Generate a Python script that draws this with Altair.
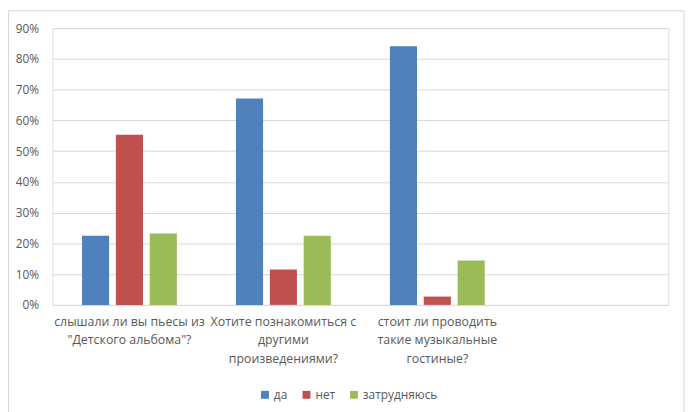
import altair as alt
import pandas as pd

questions = [
    "слышали ли вы пьесы из\n\"Детского альбома\"?",
    "Хотите познакомиться с\nдругими\nпроизведениями?",
    "стоит ли проводить\nтакие музыкальные\nгостиные?",
]
empty_slot = " "
answers = ["да", "нет", "затрудняюсь"]
colors = ["#4F81BD", "#C0504D", "#9BBB59"]

da = [0.225, 0.671, 0.841]
net = [0.553, 0.115, 0.027]
zatr = [0.232, 0.225, 0.144]
tick_values = [0, 0.1, 0.2, 0.3, 0.4, 0.5, 0.6, 0.7, 0.8, 0.9]

rows = []
for ans, vals in zip(answers, [da, net, zatr]):
    for q, v in zip(questions, vals):
        rows.append({"question": q, "answer": ans, "value": v})
df = pd.DataFrame(rows)

W, H = 623, 280
FONT = "Open Sans"
GREY = "#595959"

bars = alt.Chart(df).mark_bar().encode(
    x=alt.X(
        "question:N",
        scale=alt.Scale(domain=questions + [empty_slot], paddingInner=0.384, paddingOuter=0.192),
        axis=alt.Axis(
            title=None,
            labelAngle=0,
            labelExpr="split(datum.label, '\\n')",
            labelFont=FONT,
            labelFontSize=12.5,
            labelColor=GREY,
            labelLineHeight=18.5,
            labelPadding=11,
            labelLimit=300,
            labelOverlap=False,
            ticks=False,
            domain=False,
            grid=False,
        ),
    ),
    xOffset=alt.XOffset("answer:N", scale=alt.Scale(domain=answers, paddingInner=0.2)),
    y=alt.Y(
        "value:Q",
        scale=alt.Scale(domain=[0, 0.9], nice=False),
        axis=alt.Axis(
            title=None,
            values=tick_values,
            format=".0%",
            labelFont=FONT,
            labelFontSize=12,
            labelColor=GREY,
            labelPadding=14,
            ticks=False,
            domain=False,
            grid=True,
            gridColor="#d9d9d9",
            gridWidth=1,
        ),
    ),
    color=alt.Color(
        "answer:N",
        scale=alt.Scale(domain=answers, range=colors),
        legend=alt.Legend(
            title=None,
            orient="none",
            direction="horizontal",
            legendX=209,
            legendY=365,
            symbolType="square",
            symbolSize=64,
            symbolStrokeWidth=0,
            labelFont=FONT,
            labelFontSize=12,
            labelColor=GREY,
            labelOffset=3,
            columnPadding=13,
            padding=0,
        ),
    ),
)

frame = alt.Chart(pd.DataFrame({"f": [0]})).mark_rect(
    fill=None, stroke="#d9d9d9", strokeWidth=1
).encode(
    x=alt.value(-44.5), x2=alt.value(639), y=alt.value(-17.5), y2=alt.value(400)
)

chart = alt.layer(frame, bars).properties(
    width=W,
    height=H,
    autosize=alt.AutoSizeParams(type="none"),
    padding={"left": 45, "top": 18, "right": 20, "bottom": 106},
).configure_view(stroke=None).configure(background="white")

chart.save("out.html", embed_options={"renderer": "svg", "actions": False})
